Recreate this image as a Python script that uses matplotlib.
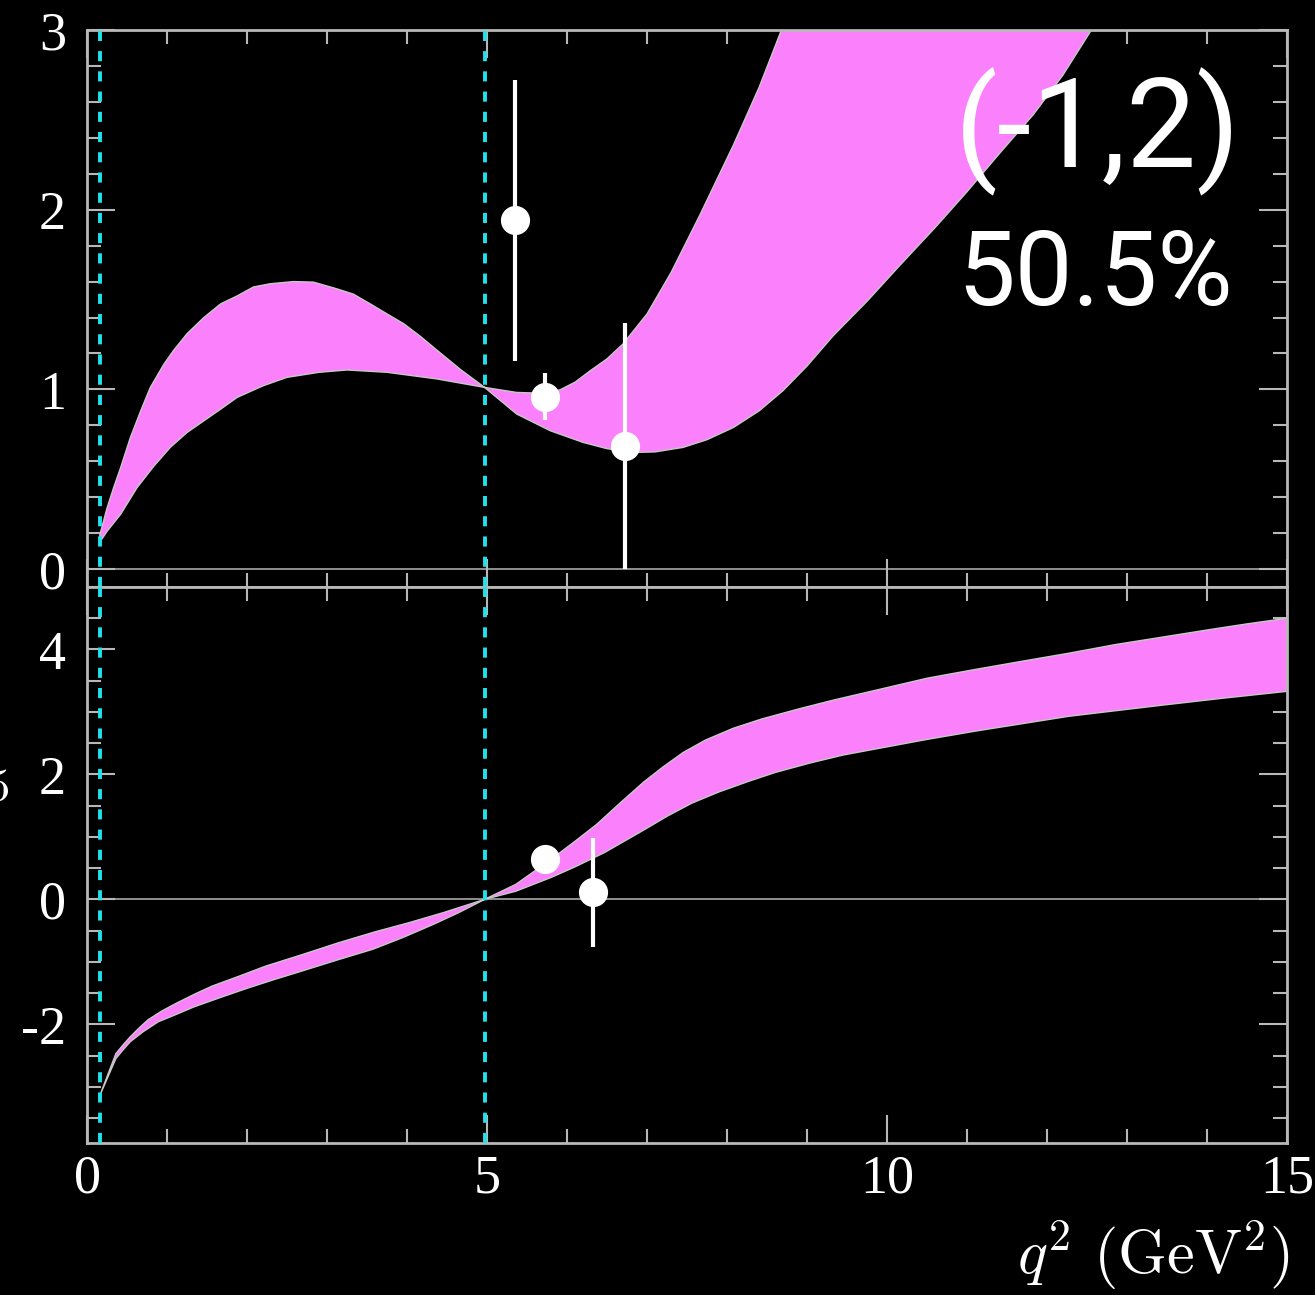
import matplotlib
matplotlib.use("Agg")
import matplotlib.pyplot as plt
from matplotlib.ticker import MultipleLocator, FormatStrFormatter

plt.rcParams['font.family'] = ['Liberation Serif', 'DejaVu Serif']
plt.rcParams['mathtext.fontset'] = 'cm'
plt.rcParams['axes.unicode_minus'] = False

# upper panel: the two edges of the theory band (they cross near q2 = 5)
edge_a_x = [0.16, 0.25, 0.33, 0.42, 0.54, 0.67, 0.79, 0.96, 1.08, 1.25, 1.46, 1.67,
            1.875, 2.08, 2.29, 2.58, 2.83, 3.12, 3.33, 3.54, 3.75, 3.96, 4.17, 4.38,
            4.67, 4.97, 5.37, 5.79, 6.2, 6.5, 6.83, 7.1, 7.45, 7.75, 8.08, 8.4, 8.7,
            9.0, 9.33, 9.75, 10.16, 10.6, 11.0, 11.4, 11.83, 12.2, 12.54, 13.0]
edge_a_y = [0.19, 0.34, 0.45, 0.565, 0.73, 0.88, 1.01, 1.14, 1.216, 1.31, 1.40, 1.476,
            1.52, 1.57, 1.588, 1.60, 1.597, 1.56, 1.53, 1.476, 1.42, 1.365, 1.294, 1.216,
            1.11, 1.011, 0.863, 0.77, 0.705, 0.67, 0.649, 0.652, 0.677, 0.72, 0.788, 0.88,
            0.993, 1.13, 1.30, 1.49, 1.69, 1.90, 2.10, 2.31, 2.53, 2.75, 2.99, 3.3]
edge_b_x = [0.16, 0.25, 0.42, 0.625, 0.83, 1.04, 1.25, 1.46, 1.67, 1.875, 2.2, 2.5,
            2.9, 3.25, 3.75, 4.375, 4.97, 5.37, 5.6, 5.91, 6.1, 6.29, 6.5, 6.7, 7.0,
            7.3, 7.66, 8.08, 8.4, 8.68, 9.0]
edge_b_y = [0.15, 0.21, 0.305, 0.453, 0.57, 0.677, 0.76, 0.825, 0.89, 0.955, 1.02, 1.067,
            1.095, 1.108, 1.095, 1.058, 1.011, 0.983, 0.98, 0.997, 1.04, 1.104, 1.17, 1.253,
            1.42, 1.65, 1.97, 2.36, 2.68, 3.0, 3.35]

# lower panel band edges
upper_x = [0.16, 0.36, 0.45, 0.54, 0.65, 0.76, 0.93, 1.12, 1.34, 1.56, 1.9, 2.23, 2.7,
           3.13, 3.6, 4.02, 4.46, 4.97, 5.36, 5.8, 6.1, 6.37, 6.67, 6.96, 7.2, 7.45,
           7.73, 8.08, 8.44, 8.9, 9.33, 9.9, 10.5, 11.1, 11.68, 12.27, 12.86, 13.45,
           14.04, 14.5, 15.0]
upper_y = [-3.14, -2.47, -2.33, -2.20, -2.06, -1.93, -1.79, -1.66, -1.52, -1.39, -1.23,
           -1.07, -0.88, -0.70, -0.52, -0.375, -0.21, 0.0, 0.24, 0.64, 0.93, 1.2, 1.55,
           1.88, 2.12, 2.35, 2.55, 2.74, 2.89, 3.05, 3.19, 3.36, 3.54, 3.68, 3.81, 3.94,
           4.08, 4.20, 4.32, 4.41, 4.50]
lower_x = [0.16, 0.36, 0.45, 0.54, 0.7, 0.89, 1.1, 1.34, 1.67, 2.01, 2.35, 2.68, 3.13,
           3.57, 3.95, 4.33, 4.65, 4.97, 5.36, 5.8, 6.1, 6.47, 6.96, 7.25, 7.56, 7.9,
           8.26, 8.6, 9.03, 9.45, 9.91, 10.5, 11.09, 11.68, 12.27, 12.86, 13.45, 14.2,
           15.0]
lower_y = [-3.14, -2.55, -2.41, -2.28, -2.12, -1.96, -1.85, -1.72, -1.57, -1.42, -1.28,
           -1.15, -0.97, -0.80, -0.61, -0.40, -0.21, 0.0, 0.13, 0.35, 0.52, 0.75, 1.11,
           1.33, 1.54, 1.72, 1.885, 2.03, 2.18, 2.31, 2.42, 2.56, 2.69, 2.81, 2.93, 3.02,
           3.11, 3.22, 3.33]

# measurements
meas_top_x = [5.35, 5.725, 6.725]
meas_top_y = [1.94, 0.96, 0.686]
meas_top_lo = [0.78, 0.13, 0.686]
meas_top_hi = [0.78, 0.13, 0.684]

meas_bot_x = [5.725, 6.325]
meas_bot_y = [0.646, 0.12]
meas_bot_lo = [0.0, 0.88]
meas_bot_hi = [0.0, 0.87]

bin_edges = [0.16, 4.98]

band_color = '#fb80fb'
frame_color = '#b8b8b8'
cyan = '#1fe3ec'

fig = plt.figure(figsize=(13.15, 12.95), dpi=100, facecolor='black')
ax1 = fig.add_axes([0.0662, 0.5467, 0.9125, 0.4301])
ax2 = fig.add_axes([0.0662, 0.1174, 0.9125, 0.4293], sharex=ax1)

for ax in (ax1, ax2):
    ax.set_facecolor('black')
    for s in ax.spines.values():
        s.set_color(frame_color)
        s.set_linewidth(2)
    ax.tick_params(which='both', direction='in', top=True, right=True,
                   color=frame_color, labelcolor='white', labelsize=39, width=1.5)
    ax.tick_params(which='major', length=20, pad=15)
    ax.tick_params(which='minor', length=10)
    ax.xaxis.set_major_locator(MultipleLocator(5))
    ax.xaxis.set_minor_locator(MultipleLocator(1))
    ax.axhline(0, color='#9a9a9a', lw=1.3, zorder=1)
    for xb in bin_edges:
        ax.axvline(xb, color=cyan, lw=2.8, dashes=(2.6, 2.6), zorder=5)

ax1.set_xlim(0, 15)
ax1.set_ylim(-0.1, 3)
ax1.yaxis.set_major_locator(MultipleLocator(1))
ax1.yaxis.set_minor_locator(MultipleLocator(0.2))
ax1.tick_params(axis='x', labelbottom=False)

ax2.set_ylim(-3.9, 5)
ax2.yaxis.set_major_locator(MultipleLocator(2))
ax2.yaxis.set_minor_locator(MultipleLocator(0.5))
ax2.yaxis.set_major_formatter(FormatStrFormatter('%d'))
ax2.tick_params(axis='x', pad=8)

# band outlines: walk along one edge and back along the other
ax1.fill(edge_a_x + edge_b_x[::-1], edge_a_y + edge_b_y[::-1], facecolor=band_color,
         edgecolor='#c8c8c8', lw=1.0, zorder=2)
ax2.fill(upper_x + lower_x[::-1], upper_y + lower_y[::-1], facecolor=band_color,
         edgecolor='#c8c8c8', lw=1.0, zorder=2)

ax1.errorbar(meas_top_x, meas_top_y, yerr=[meas_top_lo, meas_top_hi], fmt='o',
             color='white', ms=20, elinewidth=3, capsize=0, zorder=6)
ax2.errorbar(meas_bot_x, meas_bot_y, yerr=[meas_bot_lo, meas_bot_hi], fmt='o',
             color='white', ms=20, elinewidth=3, capsize=0, zorder=6)

ax1.text(0.842, 0.754, '(-1,2)', transform=ax1.transAxes, ha='center', va='baseline',
         color='white', fontsize=90, family=['Roboto', 'DejaVu Sans'], zorder=7)
ax1.text(0.840, 0.506, '50.5%', transform=ax1.transAxes, ha='center', va='baseline',
         color='white', fontsize=74, family=['Roboto', 'DejaVu Sans'], zorder=7)

fig.text(0.981, 0.016, r'$q^2\ (\mathrm{GeV}^2)$', ha='right', va='baseline',
         color='white', fontsize=45)
fig.text(10 / 1315, 1 - 790 / 1295, r'$S_5$', ha='right', va='baseline',
         color='white', fontsize=48)

fig.savefig('out.png', dpi=100, facecolor='black')
